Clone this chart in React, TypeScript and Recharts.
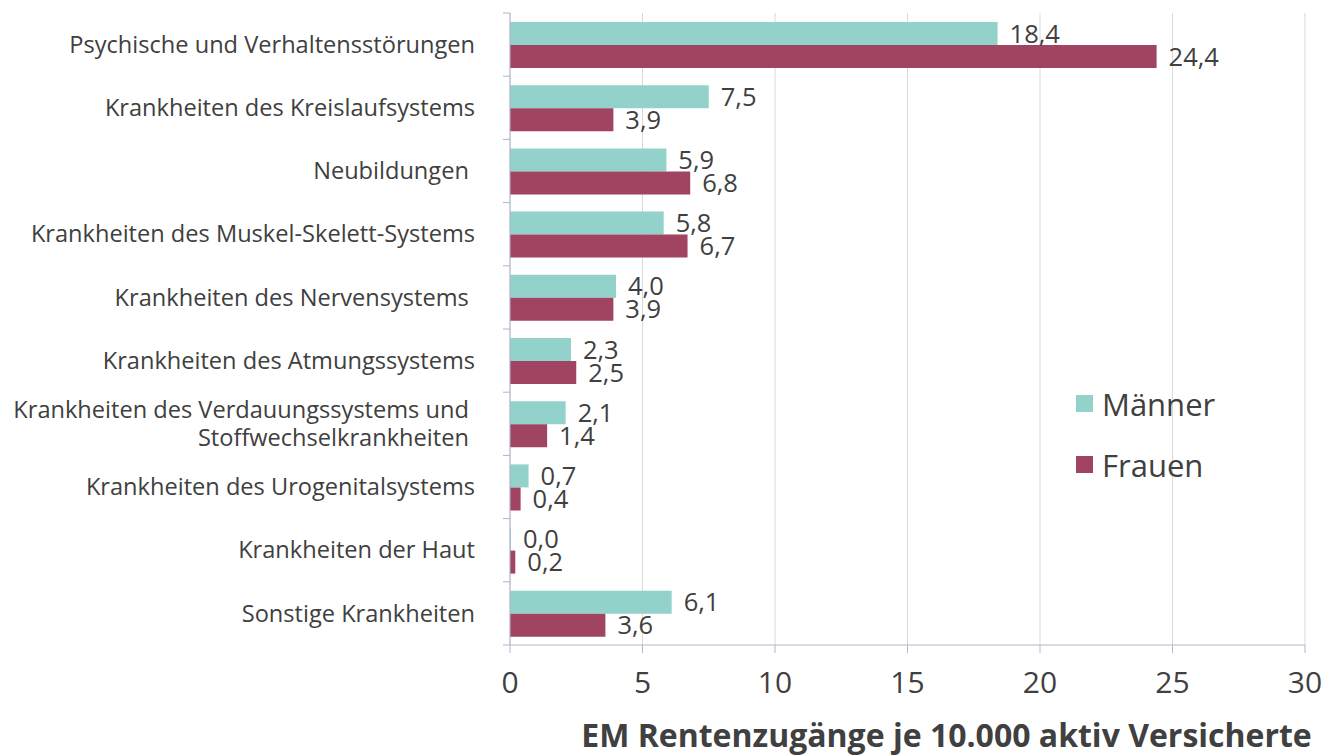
import React from 'react';
import { BarChart, Bar, XAxis, YAxis, CartesianGrid, LabelList } from 'recharts';

const categories = [
  'Psychische und Verhaltensstörungen',
  'Krankheiten des Kreislaufsystems',
  'Neubildungen ',
  'Krankheiten des Muskel-Skelett-Systems',
  'Krankheiten des Nervensystems ',
  'Krankheiten des Atmungssystems',
  'Krankheiten des Verdauungssystems und \nStoffwechselkrankheiten ',
  'Krankheiten des Urogenitalsystems',
  'Krankheiten der Haut',
  'Sonstige Krankheiten',
];
const maenner = [18.4, 7.5, 5.9, 5.8, 4.0, 2.3, 2.1, 0.7, 0.0, 6.1];
const frauen = [24.4, 3.9, 6.8, 6.7, 3.9, 2.5, 1.4, 0.4, 0.2, 3.6];
const xTicks = [0, 5, 10, 15, 20, 25, 30];

const data = categories.map((name, i) => ({ name, maenner: maenner[i], frauen: frauen[i] }));

const FONT = '"Open Sans", sans-serif';
const TEXT = '#404040';
const TEAL = '#93D2CA';
const MAROON = '#A04462';
const AXIS = '#B0B6CC';

const W = 1339;
const H = 756;
const M = { top: 13, right: 34, left: 0, bottom: 0 };
const Y_WIDTH = 510;
const X_HEIGHT = 111;
const band = (H - M.top - M.bottom - X_HEIGHT) / categories.length;

const fmt = (v: any) => Number(v).toFixed(1).replace('.', ',');

const CategoryTick = (props: any) => {
  const { y, payload, index } = props;
  const lines = String(payload.value).split('\n');
  const axisX = Y_WIDTH;
  const lh = 28;
  const startY = y - ((lines.length - 1) * lh) / 2;
  return (
    <g>
      <line x1={axisX - 7} x2={axisX} y1={y - band / 2} y2={y - band / 2} stroke={AXIS} />
      {index === categories.length - 1 && (
        <line x1={axisX - 7} x2={axisX} y1={y + band / 2} y2={y + band / 2} stroke={AXIS} />
      )}
      <text
        x={axisX - 35}
        y={startY}
        textAnchor="end"
        fill={TEXT}
        fontSize={23.6}
        fontFamily={FONT}
        style={{ whiteSpace: 'pre' }}
      >
        {lines.map((l, i) => (
          <tspan key={i} x={axisX - 35} dy={i === 0 ? '0.35em' : lh}>
            {l}
          </tspan>
        ))}
      </text>
    </g>
  );
};

const AxisTitle = (props: any) => {
  const vb = props.viewBox || {};
  return (
    <text
      x={vb.x + vb.width / 2 + 39}
      y={H - 9}
      textAnchor="middle"
      fill={TEXT}
      fontSize={32}
      fontWeight="bold"
      fontFamily={FONT}
    >
      EM Rentenzugänge je 10.000 aktiv Versicherte
    </text>
  );
};

const legendItems = [
  { label: 'Männer', color: TEAL },
  { label: 'Frauen', color: MAROON },
];

export default function App() {
  return (
    <div style={{ position: 'absolute', left: 0, top: 0, width: W, height: H, background: '#fff' }}>
      <BarChart width={W} height={H} data={data} layout="vertical" margin={M} barGap={0}>
        <CartesianGrid horizontal={false} stroke="#D9D9D9" />
        <XAxis
          type="number"
          domain={[0, 30]}
          ticks={xTicks}
          height={X_HEIGHT}
          tickSize={8}
          tickMargin={19}
          axisLine={{ stroke: AXIS }}
          tickLine={{ stroke: AXIS }}
          tick={{ fill: TEXT, fontSize: 30, fontFamily: FONT }}
          label={<AxisTitle />}
        />
        <YAxis
          type="category"
          dataKey="name"
          width={Y_WIDTH}
          axisLine={{ stroke: AXIS }}
          tickLine={false}
          interval={0}
          tick={<CategoryTick />}
        />
        <Bar dataKey="maenner" name="Männer" fill={TEAL} barSize={23} minPointSize={1} isAnimationActive={false}>
          <LabelList dataKey="maenner" position="right" offset={12} formatter={fmt} fill={TEXT} fontSize={25.5} fontFamily={FONT} />
        </Bar>
        <Bar dataKey="frauen" name="Frauen" fill={MAROON} barSize={23} minPointSize={1} isAnimationActive={false}>
          <LabelList dataKey="frauen" position="right" offset={12} formatter={fmt} fill={TEXT} fontSize={25.5} fontFamily={FONT} />
        </Bar>
      </BarChart>
      <div style={{ position: 'absolute', left: 1076, top: 373, fontFamily: FONT }}>
        {legendItems.map((it) => (
          <div key={it.label} style={{ display: 'flex', alignItems: 'center', height: 61 }}>
            <span style={{ width: 17, height: 17, background: it.color, display: 'inline-block', marginRight: 9 }} />
            <span style={{ fontSize: 31, color: TEXT }}>{it.label}</span>
          </div>
        ))}
      </div>
    </div>
  );
}
